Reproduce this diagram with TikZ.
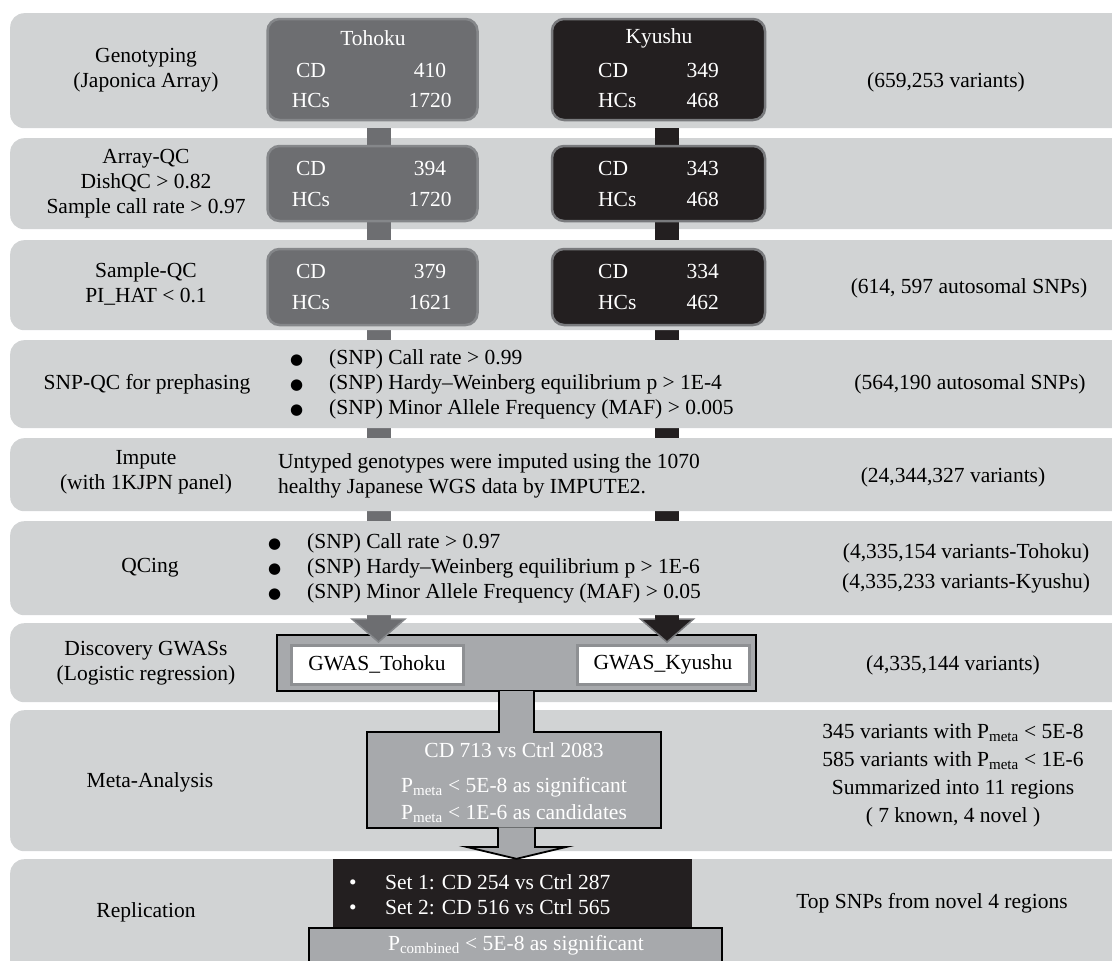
\documentclass[tikz,border=0pt]{standalone}
\usepackage{fontspec}
\setmainfont{Liberation Serif}
\newfontfamily\dejavu{DejaVu Sans}
\usetikzlibrary{calc}
\definecolor{bandc}{HTML}{D1D3D4}
\definecolor{tgray}{HTML}{6D6E71}
\definecolor{tedge}{HTML}{85878A}
\definecolor{kblack}{HTML}{231F20}
\definecolor{kedge}{HTML}{797A7D}
\definecolor{mgray}{HTML}{A7A9AC}
\definecolor{wedge}{HTML}{8E9093}
\pgfdeclarelayer{bars}\pgfdeclarelayer{bands}\pgfdeclarelayer{conn}
\pgfsetlayers{bars,bands,conn,main}
\newcommand{\mybul}{\makebox[39pt][l]{\fontsize{15}{15}\selectfont\dejavu ●}}
\newcommand{\mywbul}{\makebox[36pt][l]{\textbullet}}
\begin{document}
\begin{tikzpicture}[x=1pt,y=-1pt,
  every node/.style={font=\fontsize{21.5}{25}\selectfont, inner sep=0pt},
  band/.style={fill=bandc, rounded corners=14pt, minimum width=1140pt, anchor=north west},
  tbox/.style={fill=tgray, draw=tedge, line width=2.5pt, rounded corners=12pt, minimum width=210pt},
  kbox/.style={fill=kblack, draw=kedge, line width=2.5pt, rounded corners=12pt, minimum width=213pt},
  wt/.style={text=white},
  lab/.style={align=center},
  tbarl/.style={draw=tgray, line width=24pt},
  kbarl/.style={draw=kblack, line width=24pt},
  whitebox/.style={fill=white, draw=wedge, line width=3pt, minimum width=172pt, minimum height=39pt},
  graybox/.style={fill=mgray, draw=black, line width=1.8pt}
]
\useasboundingbox (0,0) rectangle (1112,961);

% ---------- bands ----------
\begin{pgfonlayer}{bands}
\node[band, minimum height=115pt] (B1) at (10,13) {};
\node[band, minimum height=91pt]  (B2) at (10,138) {};
\node[band, minimum height=90pt]  (B3) at (10,240) {};
\node[band, minimum height=88pt]  (B4) at (10,340) {};
\node[band, minimum height=73pt]  (B5) at (10,438) {};
\node[band, minimum height=94pt]  (B6) at (10,521) {};
\node[band, minimum height=79pt]  (B7) at (10,623) {};
\node[band, minimum height=141pt] (B8) at (10,710) {};
\node[band, minimum height=130pt] (B9) at (10,859) {};
\end{pgfonlayer}

% ---------- left labels ----------
\node[lab] (L1) at (146,70) {Genotyping\\(Japonica Array)};
\node[lab] (L2) at (146,183.5) {Array-QC\\DishQC > 0.82\\Sample call rate > 0.97};
\node[lab] (L3) at (146,284) {Sample-QC\\PI\_HAT < 0.1};
\node[lab] (L4) at (147,384) {SNP-QC for prephasing};
\node[lab] (L5) at (146,472) {Impute\\(with 1KJPN panel)};
\node[lab] (L6) at (150,568) {QCing};
\node[lab] (L7) at (146,663) {Discovery GWASs\\(Logistic regression)};
\node[lab] (L8) at (150,782) {Meta-Analysis};
\node[lab] (L9) at (146,912) {Replication};

% ---------- cohort boxes ----------
\node[tbox, minimum height=101pt] (t1) at (372.5,69.5) {};
\node[tbox, minimum height=75pt]  (t2) at (372.5,183.5) {};
\node[tbox, minimum height=76pt]  (t3) at (372.5,287) {};
\node[kbox, minimum height=101pt] (k1) at (658.5,69.5) {};
\node[kbox, minimum height=75pt]  (k2) at (658.5,183.5) {};
\node[kbox, minimum height=76pt]  (k3) at (658.5,287) {};

\node[wt] (t1h) at (373,38) {Tohoku};
\node[wt] (t1a) at (311,70) {CD};   \node[wt] (t1b) at (430,70) {410};
\node[wt] (t1c) at (311,100) {HCs}; \node[wt] (t1d) at (430,100) {1720};
\node[wt] (t2a) at (311,168) {CD};  \node[wt] (t2b) at (430,168) {394};
\node[wt] (t2c) at (311,199) {HCs}; \node[wt] (t2d) at (430,199) {1720};
\node[wt] (t3a) at (311,271.5) {CD};  \node[wt] (t3b) at (430,271.5) {379};
\node[wt] (t3c) at (311,302.5) {HCs}; \node[wt] (t3d) at (430,302.5) {1621};

\node[wt] (k1h) at (659,38) {Kyushu};
\node[wt, anchor=west] (k1a) at (598,70) {CD};   \node[wt, anchor=east] (k1b) at (719,70) {349};
\node[wt, anchor=west] (k1c) at (598,100) {HCs}; \node[wt, anchor=east] (k1d) at (719,100) {468};
\node[wt, anchor=west] (k2a) at (598,168) {CD};  \node[wt, anchor=east] (k2b) at (719,168) {343};
\node[wt, anchor=west] (k2c) at (598,199) {HCs}; \node[wt, anchor=east] (k2d) at (719,199) {468};
\node[wt, anchor=west] (k3a) at (598,271.5) {CD};  \node[wt, anchor=east] (k3b) at (719,271.5) {334};
\node[wt, anchor=west] (k3c) at (598,302.5) {HCs}; \node[wt, anchor=east] (k3d) at (719,302.5) {462};

% ---------- middle texts ----------
\node[align=left, anchor=west] (snpqc) at (290,384.5) {\mybul(SNP) Call rate > 0.99\\\mybul(SNP) Hardy–Weinberg equilibrium p > 1E-4\\\mybul(SNP) Minor Allele Frequency (MAF) > 0.005};
\node[align=left, anchor=west] (imp) at (278,476) {Untyped genotypes were imputed using the 1070\\healthy Japanese WGS data by IMPUTE2.};
\node[align=left, anchor=west] (qcing) at (268,568.5) {\mybul(SNP) Call rate > 0.97\\\mybul(SNP) Hardy–Weinberg equilibrium p > 1E-6\\\mybul(SNP) Minor Allele Frequency (MAF) > 0.05};

% ---------- right texts ----------
\node (r1) at (946,82) {(659,253 variants)};
\node (r3) at (969,288) {(614, 597 autosomal SNPs)};
\node (r4) at (970,384) {(564,190 autosomal SNPs)};
\node (r5) at (953,477) {(24,344,327 variants)};
\node[align=center, font=\fontsize{21.5}{30}\selectfont] (r6) at (966,568) {(4,335,154 variants-Tohoku)\\(4,335,233 variants-Kyushu)};
\node (r7) at (953,665) {(4,335,144 variants)};
\node[align=center, font=\fontsize{21.5}{28}\selectfont] (r8) at (953,775) {345 variants with P\textsubscript{meta} < 5E-8\\585 variants with P\textsubscript{meta} < 1E-6\\Summarized into 11 regions\\( 7 known, 4 novel )};
\node (r9) at (932,903) {Top SNPs from novel 4 regions};

% ---------- GWAS, meta, replication ----------
\node[fill=mgray, draw=black, line width=2pt, minimum width=479pt, minimum height=56pt] (gw) at (516.5,663) {};
\node[whitebox] (gt) at (377,664.5) {GWAS\_Tohoku};
\node[whitebox] (gk) at (663,664.5) {GWAS\_Kyushu};

\node[graybox, minimum width=294pt, minimum height=96pt] (meta) at (514,780) {};
\node[wt] (m1) at (514,750) {CD 713 vs Ctrl 2083};
\node[wt, align=center, font=\fontsize{21.5}{27}\selectfont] (m2) at (514,800) {P\textsubscript{meta} < 5E-8 as significant\\P\textsubscript{meta} < 1E-6 as candidates};

\node[graybox, line width=1.5pt, minimum width=413pt, minimum height=60pt, anchor=north] (pc) at (515.5,927) {};
\node[fill=kblack, minimum width=359pt, minimum height=68pt] (rep) at (512.5,893) {};
\node[wt, align=left, anchor=west] (r1t) at (349,894.5) {\mywbul Set 1: CD 254 vs Ctrl 287\\\mywbul Set 2: CD 516 vs Ctrl 565};
\node[wt] (pct) at (516,945) {P\textsubscript{combined} < 5E-8 as significant};

% ---------- connectors ----------
\coordinate (tx) at ($(t3.south)+(6,0)$);
\coordinate (kx) at ($(k3.south)+(8.5,0)$);
\begin{pgfonlayer}{conn}
\draw[tbarl] (B1.south -| tx) -- (t2.north -| tx);
\draw[tbarl] (t2.south -| tx) -- (B3.north -| tx);
\draw[kbarl] (B1.south -| kx) -- (k2.north -| kx);
\draw[kbarl] (k2.south -| kx) -- (B3.north -| kx);
\end{pgfonlayer}
\begin{pgfonlayer}{bars}
\draw[tbarl] (tx) -- ($(tx |- gw.north)+(0,-14)$);
\draw[kbarl] (kx) -- ($(kx |- gw.north)+(0,-14)$);
\end{pgfonlayer}
% arrow heads into GWAS box
\filldraw[fill=tgray, draw=tedge, line width=1.5pt, line join=miter]
  ($(tx |- gw.north)+(-12,-15)$) -- ($(tx |- gw.north)+(-26.5,-15)$) -- ($(tx |- gw.north)+(0,8)$) -- ($(tx |- gw.north)+(26.5,-15)$) -- ($(tx |- gw.north)+(12,-15)$);
\filldraw[fill=kblack, draw=kedge, line width=1.5pt, line join=miter]
  ($(kx |- gw.north)+(-12,-15)$) -- ($(kx |- gw.north)+(-26.5,-15)$) -- ($(kx |- gw.north)+(0,8)$) -- ($(kx |- gw.north)+(26.5,-15)$) -- ($(kx |- gw.north)+(12,-15)$);
% stem from GWAS to meta
\fill[mgray] ($(gw.south)+(-16.5,-1.5)$) rectangle ($(gw.south |- meta.north)+(16.5,1.5)$);
\draw[line width=2pt] ($(gw.south)+(-17.5,0)$) -- ($(gw.south |- meta.north)+(-17.5,0)$);
\draw[line width=2pt] ($(gw.south)+(17.5,0)$) -- ($(gw.south |- meta.north)+(17.5,0)$);
% arrow meta -> replication
\filldraw[fill=mgray, draw=black, line width=1.8pt, line join=miter]
  ($(gw.south |- meta.south)+(-18.5,-1.5)$) -- ($(gw.south |- meta.south)+(-18.5,18)$) -- ($(gw.south |- meta.south)+(-50,18)$) -- (gw.south |- rep.north) -- ($(gw.south |- meta.south)+(50,18)$) -- ($(gw.south |- meta.south)+(18.5,18)$) -- ($(gw.south |- meta.south)+(18.5,-1.5)$);
\end{tikzpicture}
\end{document}
